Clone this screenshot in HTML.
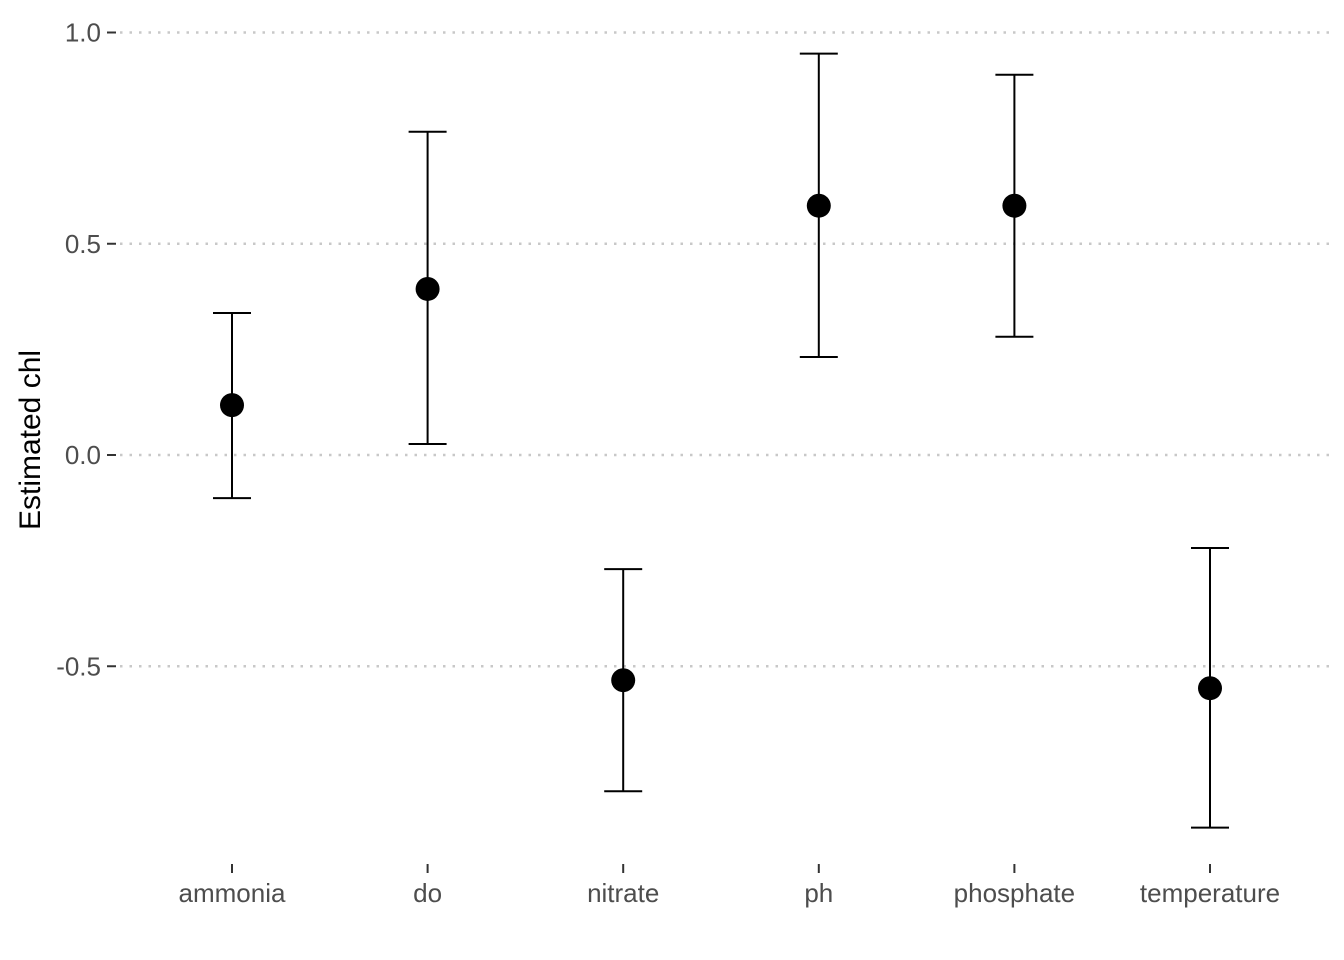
<!DOCTYPE html>
<html><head><meta charset="utf-8"><style>
body{margin:0;background:#fff}
svg{display:block;font-family:"Liberation Sans",sans-serif}
</style></head><body>
<svg id="chart" width="1344" height="960">
<g id="grid"></g>
<g id="yaxis"></g>
<g id="xaxis"></g>
<g id="marks"></g>
<text x="40" y="440" transform="rotate(-90 40 440)" text-anchor="middle" font-size="30" fill="#000">Estimated chl</text>
</svg>
<script>
const categories=["ammonia","do","nitrate","ph","phosphate","temperature"];
const estimates=[0.118,0.393,-0.533,0.590,0.590,-0.552];
const upper=[0.336,0.765,-0.270,0.950,0.900,-0.220];
const lower=[-0.102,0.026,-0.796,0.232,0.280,-0.882];
const yTicks=[1.0,0.5,0.0,-0.5];
const yTickLabels=["1.0","0.5","0.0","-0.5"];

const NS="http://www.w3.org/2000/svg";
const y=v=>455-v*422.5;
const x=i=>232+i*195.6;
function mk(tag,attrs,parent){const e=document.createElementNS(NS,tag);for(const k in attrs)e.setAttribute(k,attrs[k]);parent.appendChild(e);return e;}
const grid=document.getElementById('grid'),ya=document.getElementById('yaxis'),xa=document.getElementById('xaxis'),marks=document.getElementById('marks');
yTicks.forEach((v,i)=>{
  const g=mk('line',{x1:120,x2:1330,y1:y(v),y2:y(v),stroke:'#c8c8c8','stroke-width':2.5,'stroke-dasharray':'2.5 7'},grid);
  
  
  const t=mk('line',{x1:107,x2:116,y1:y(v),y2:y(v),stroke:'#333','stroke-width':2},ya);
  
  
  const l=mk('text',{x:101,y:y(v)+9,'text-anchor':'end','font-size':26,fill:'#4d4d4d'},ya);
  l.textContent=yTickLabels[i];
  
  
});
categories.forEach((c,i)=>{
  const t=mk('line',{x1:x(i),x2:x(i),y1:864,y2:873,stroke:'#333','stroke-width':2},xa);
  
  
  const l=mk('text',{x:x(i),y:902,'text-anchor':'middle','font-size':26,fill:'#4d4d4d'},xa);
  l.textContent=c;
  
  
  const g=mk('g',{},marks);
  
  
  mk('line',{x1:x(i),x2:x(i),y1:y(upper[i]),y2:y(lower[i]),stroke:'#000','stroke-width':2},g);
  mk('line',{x1:x(i)-19,x2:x(i)+19,y1:y(upper[i]),y2:y(upper[i]),stroke:'#000','stroke-width':2},g);
  mk('line',{x1:x(i)-19,x2:x(i)+19,y1:y(lower[i]),y2:y(lower[i]),stroke:'#000','stroke-width':2},g);
  const p=mk('circle',{cx:x(i),cy:y(estimates[i]),r:12,fill:'#000'},g);
  
  
});
</script>
</body></html>
